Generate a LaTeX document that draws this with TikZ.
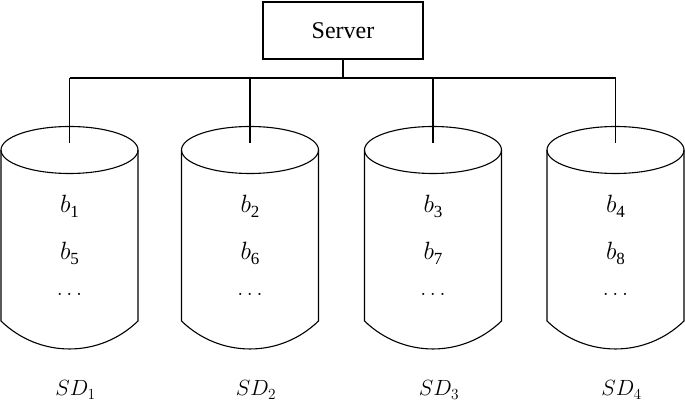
\RequirePackage{fix-cm}
\documentclass[tikz,border=0pt]{standalone}
\usepackage{fontspec}
\setmainfont{Liberation Serif}

\begin{document}
\begin{tikzpicture}[x=1pt,y=-1pt,line width=1.1pt,
  box/.style={draw,minimum width=160,minimum height=57,font=\fontsize{24}{28}\selectfont},
  blk/.style={font=\fontsize{25}{28}\selectfont},
  lbl/.style={font=\fontsize{22}{26}\selectfont}]
\useasboundingbox (0,0) rectangle (685,411);

\node[box] (server) at (343,30.5) {Server};

% disks
\foreach \i/\cx/\a/\b in {1/69.5/1/5,2/250/2/6,3/433/3/7,4/615.5/4/8}{
  \coordinate (tap\i) at (\cx,78);
  \coordinate (top\i) at (\cx,143);
  \draw (\cx,150) ellipse [x radius=68.5,y radius=23.5];
  \draw (\cx-68.5,150) -- (\cx-68.5,321)
        .. controls (\cx-30,358.3) and (\cx+30,358.3) .. (\cx+68.5,321)
        -- (\cx+68.5,150);
  \node[blk] (b\a) at (\cx,206) {$b$\raisebox{-5pt}{\fontsize{17}{17}\selectfont\a}};
  \node[blk] (b\b) at (\cx,253) {$b$\raisebox{-5pt}{\fontsize{17}{17}\selectfont\b}};
  \node[lbl] (dots\i) at (\cx,294) {$\ldots$};
  \node[lbl] (sd\i) at (\cx+6,390) {$SD_{\i}$};
}

\draw (server.south) -- (server.south |- tap1);
\draw (tap1) -- (tap4);
\foreach \i in {1,...,4}
  \draw (tap\i) -- (top\i);

\end{tikzpicture}
\end{document}
